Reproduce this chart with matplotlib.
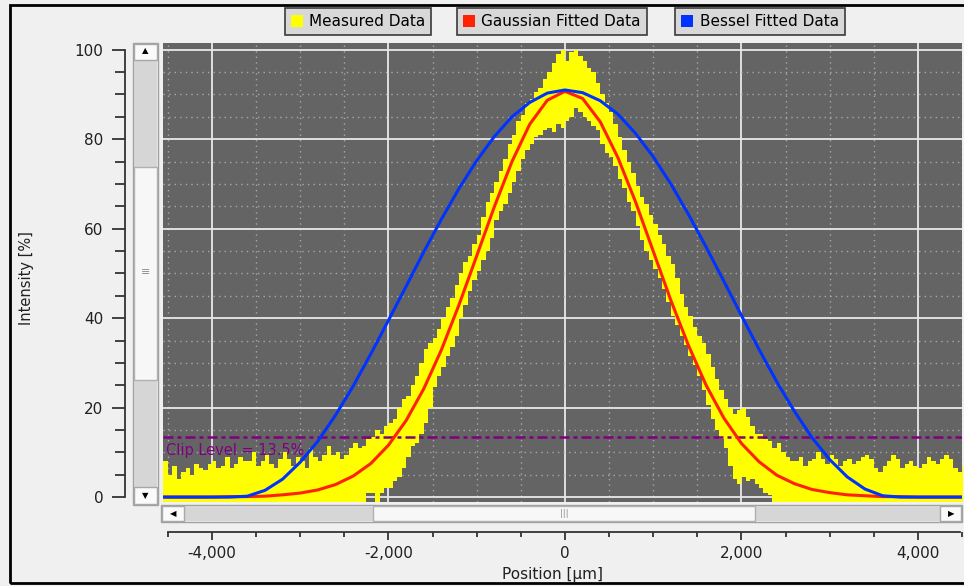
import numpy as np
import matplotlib
matplotlib.use('Agg')
import matplotlib.pyplot as plt
from matplotlib.patches import Rectangle, Patch
from matplotlib.ticker import MultipleLocator, FuncFormatter

# fitted profiles, sampled every 200 um
fit_pos = np.arange(-4600, 4601, 200)
gauss_fit = [0.0, 0.0, 0.0, 0.0, 0.1, 0.1, 0.2, 0.5, 0.9, 1.6,
             2.8, 4.7, 7.5, 11.6, 17.1, 24.2, 32.9, 43.0, 53.9, 64.9,
             75.0, 83.3, 88.7, 90.7, 89.1, 83.9, 75.9, 66.0, 55.0, 44.0,
             33.9, 25.0, 17.7, 12.0, 7.9, 4.9, 3.0, 1.7, 1.0, 0.5,
             0.3, 0.1, 0.1, 0.0, 0.0, 0.0, 0.0]
bessel_fit = [0.0, 0.0, 0.0, 0.0, 0.0, 0.2, 1.5, 4.0, 7.8, 12.5,
              18.3, 24.8, 32.0, 39.5, 47.1, 54.8, 62.1, 69.0, 75.2, 80.6,
              85.0, 88.2, 90.3, 91.0, 90.4, 88.6, 85.6, 81.3, 76.1, 70.0,
              63.2, 55.9, 48.3, 40.6, 33.0, 25.8, 19.2, 13.3, 8.4, 4.5,
              1.8, 0.3, 0.0, 0.0, 0.0, 0.0, 0.0]

# measured profile: min / max of the raw signal in 50 um bins
meas_pos = np.arange(-4575, 4576, 50)
meas_hi = [9, 8, 5, 7, 4, 5.5, 6.5, 5, 7.5, 6.5,
           6, 7.5, 8, 6.5, 7, 9, 6.5, 7.5, 9, 8,
           8, 10, 7, 8, 9.5, 7.5, 6.5, 8.5, 10, 8.5,
           7, 9, 8, 6.5, 11, 9, 8, 9.5, 11.5, 9.5,
           10, 8.5, 9.5, 11, 12, 11, 11.5, 13, 13.5, 15,
           14, 16, 16.5, 17.5, 20, 22, 22.5, 25, 27, 30,
           33, 34.5, 35.5, 37.5, 40, 42.5, 44.5, 47.5, 50, 52.5,
           54, 56.5, 58.5, 62.5, 66, 68, 70.5, 73, 75.5, 79,
           81, 84, 85.5, 88, 89, 90.5, 91.5, 93.5, 95, 97,
           99, 100, 97.5, 99.5, 100, 98.5, 97.5, 96, 95, 92.5,
           90, 88, 86, 83.5, 80.5, 77.5, 75, 72.5, 69.5, 67,
           65.5, 63, 61, 58.5, 56.5, 54, 52, 49, 45.5, 42.5,
           40.5, 38, 36, 34.5, 32, 29, 26.5, 24, 22, 20,
           18.5, 19.5, 20, 18, 16, 14, 14, 13, 12.5, 11,
           12, 10, 9, 8, 8, 9, 7, 8, 8.5, 10,
           8.5, 7.5, 9.5, 8.5, 7, 8, 8.5, 7.5, 8, 9,
           9.5, 8.5, 6.5, 5.5, 7, 8, 9.5, 8.5, 6.5, 7.5,
           8, 7, 6.5, 7.5, 9, 8, 7.5, 8.5, 9.5, 8.5,
           6.5, 5.5, 7, 7]
meas_lo = [-1] * 46 + [
           -1, 1, 1, -1, 1, 2, 2, 3.5, 4.5, 6.5,
           9, 11.5, 12, 14, 16.5, 20, 24.5, 27, 29, 31.5,
           33.5, 36, 40, 43, 46, 48.5, 50.5, 53, 55, 58,
           62, 64, 65.5, 68, 70.5, 73, 75.5, 77.5, 79, 80.5,
           81, 82, 82.5, 81.5, 83.5, 82.5, 84, 85, 87, 86,
           85, 84, 83, 82, 79, 77, 76, 74, 71, 69,
           66, 64, 60.5, 57.5, 55, 53, 51, 49, 46.5, 43.5,
           40.5, 38.5, 36, 34, 31.5, 29.5, 27, 24, 20.5, 17.5,
           15, 13, 11, 7, 4, 3, 4.5, 3.5, 4, 3,
           2, 1, 0.5, -1] + [-1] * 44
clip_level = 13.5
assert len(meas_hi) == len(meas_pos) == len(meas_lo)

legend_labels = ['Measured Data', 'Gaussian Fitted Data', 'Bessel Fitted Data']
legend_colors = ['#ffff00', '#ff2200', '#0033ff']

W, H = 964, 586
fig = plt.figure(figsize=(W / 100, H / 100), dpi=100)
fig.patch.set_facecolor('#f0f0f0')


def px_box(x0, y0, x1, y1, **kw):
    r = Rectangle((x0 / W, 1 - y1 / H), (x1 - x0) / W, (y1 - y0) / H,
                  transform=fig.transFigure, **kw)
    fig.add_artist(r)
    return r


def px_text(x, y, s, **kw):
    fig.text(x / W, 1 - y / H, s, ha='center', va='center', **kw)


# window frame
px_box(10, 5, 1000, 583, fill=False, edgecolor='black', lw=2)

ax = fig.add_axes([163 / W, (H - 502) / H, (962 - 163) / W, (502 - 43) / H])
ax.set_facecolor('#646464')

ax.fill_between(meas_pos, meas_lo, meas_hi, step='mid', color=legend_colors[0],
                lw=0, zorder=2)
ax.axhline(clip_level, color='#800080', lw=1.8, dashes=(4, 1.6, 1.6, 1.6), zorder=3)
ax.text(-4520, 12.2, 'Clip Level = %.1f%%' % clip_level, color='#800080',
        fontsize=10.5, va='top', ha='left', zorder=1.5)
ax.plot(fit_pos, gauss_fit, color=legend_colors[1], lw=2.2, zorder=4)
ax.plot(fit_pos, bessel_fit, color=legend_colors[2], lw=2.2, zorder=5)

ax.set_xlim(-4555, 4500)
ax.set_ylim(-1.1, 101.5)

ax.xaxis.set_major_locator(MultipleLocator(2000))
ax.xaxis.set_minor_locator(MultipleLocator(500))
ax.yaxis.set_major_locator(MultipleLocator(20))
ax.yaxis.set_minor_locator(MultipleLocator(5))
ax.xaxis.set_major_formatter(FuncFormatter(lambda v, p: f'{v:,.0f}'))

ax.set_axisbelow(True)
ax.grid(which='major', color='#e8e8e8', lw=1.3, ls='-')
ax.grid(which='minor', color='#a8a8a8', lw=1.0, ls=(0, (1, 3)))

for s in ['top', 'right']:
    ax.spines[s].set_visible(False)
ax.spines['left'].set_position(('outward', 27.4))
ax.spines['left'].set_bounds(0, 100)
ax.spines['bottom'].set_position(('outward', 21.6))
ax.spines['bottom'].set_bounds(-4500, 4480)
for s in ['left', 'bottom']:
    ax.spines[s].set_color('#333333')
    ax.spines[s].set_linewidth(1.3)

ax.tick_params(axis='y', which='major', length=9.5, width=1.3, color='#333333',
               labelsize=11, labelcolor='#202020', pad=6)
ax.tick_params(axis='y', which='minor', length=7.5, width=1.3, color='#333333')
ax.tick_params(axis='x', which='major', length=6, width=1.3, color='#333333',
               labelsize=11, labelcolor='#202020', pad=4)
ax.tick_params(axis='x', which='minor', length=3.5, width=1.3, color='#333333')

px_text(553, 575, 'Position [µm]', fontsize=11, color='#202020')
px_text(27, 278, 'Intensity [%]', fontsize=10.5, color='#202020', rotation=90)

# vertical scrollbar
px_box(133, 43, 158, 505, facecolor='#f4f4f4', edgecolor='#a0a0a0', lw=1)
px_box(134, 60, 157, 167, facecolor='#d6d6d6', edgecolor='none')
px_box(134, 380, 157, 487, facecolor='#d6d6d6', edgecolor='none')
px_box(134, 167, 157, 380, facecolor='#f7f7f7', edgecolor='#b0b0b0', lw=1)
px_box(134, 44, 157, 60, facecolor='#fafafa', edgecolor='#a8a8a8', lw=1)
px_box(134, 487, 157, 504, facecolor='#fafafa', edgecolor='#a8a8a8', lw=1)
px_text(145.5, 51, '▲', fontsize=6, color='black')
px_text(145.5, 496, '▼', fontsize=6, color='black')
px_text(145.5, 272, '≡', fontsize=8, color='#909090')

# horizontal scrollbar
px_box(161, 505, 962, 522, facecolor='#f4f4f4', edgecolor='#a0a0a0', lw=1)
px_box(185, 506, 373, 521, facecolor='#d6d6d6', edgecolor='none')
px_box(755, 506, 940, 521, facecolor='#d6d6d6', edgecolor='none')
px_box(373, 506, 755, 521, facecolor='#f7f7f7', edgecolor='#b0b0b0', lw=1)
px_box(162, 506, 184, 521, facecolor='#fafafa', edgecolor='#a8a8a8', lw=1)
px_box(940, 506, 961, 521, facecolor='#fafafa', edgecolor='#a8a8a8', lw=1)
px_text(173, 513.5, '◀', fontsize=6, color='black')
px_text(951, 513.5, '▶', fontsize=6, color='black')
px_text(564, 513.5, '|||', fontsize=6, color='#909090')

# one boxed legend entry per series
for label, color, cx in zip(legend_labels, legend_colors, [358, 552, 760]):
    leg = fig.legend(handles=[Patch(facecolor=color, edgecolor='none')], labels=[label],
                     loc='center', bbox_to_anchor=(cx / W, 1 - 21.5 / H),
                     frameon=True, fancybox=False, fontsize=11,
                     handlelength=0.8, handleheight=0.8, handletextpad=0.4,
                     borderpad=0.4, borderaxespad=0)
    fr = leg.get_frame()
    fr.set_facecolor('#d8d8d8')
    fr.set_edgecolor('#3a3a3a')
    fr.set_linewidth(1.2)
    fr.set_alpha(1)

fig.savefig('out.png', dpi=100, facecolor=fig.get_facecolor())
